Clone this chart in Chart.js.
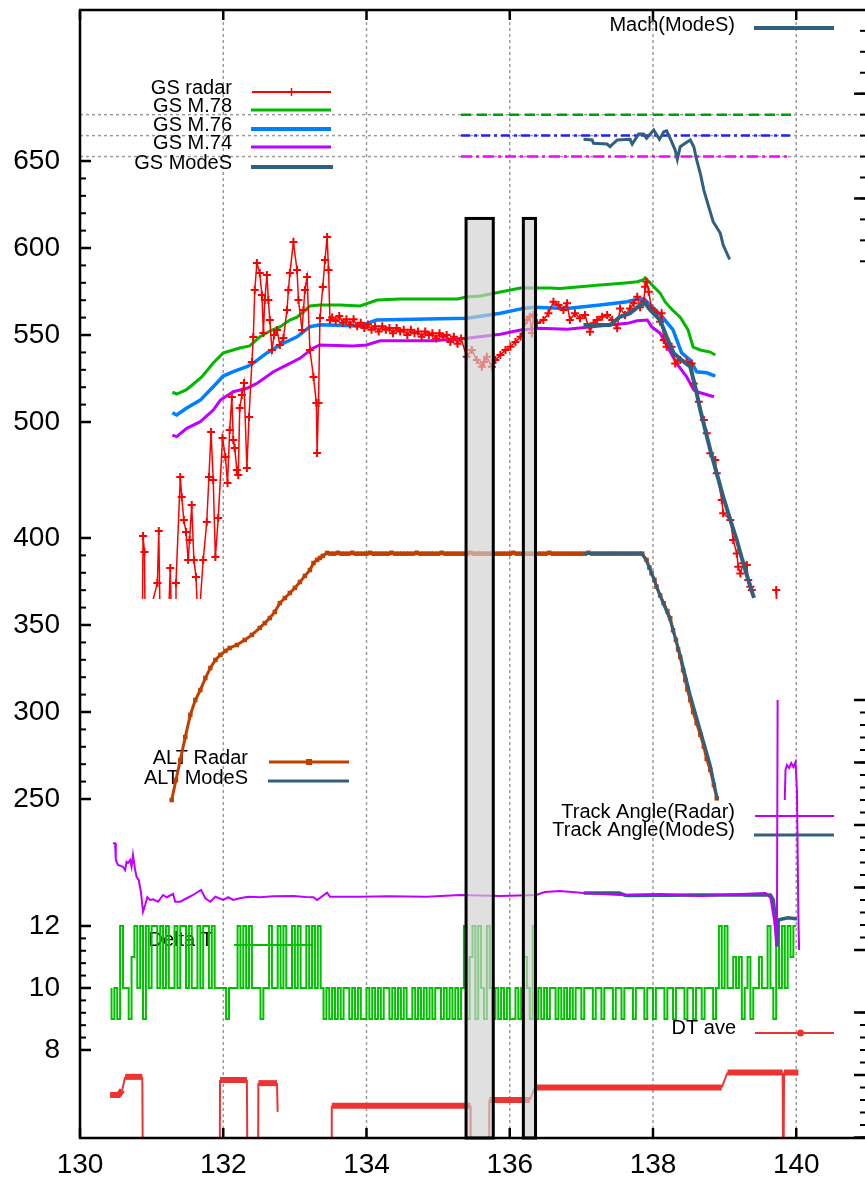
<!DOCTYPE html>
<html>
<head>
<meta charset="utf-8">
<script src="https://cdn.jsdelivr.net/npm/chart.js@4.4.0/dist/chart.umd.min.js"></script>
<style>
  html, body { margin: 0; padding: 0; background: #fff; overflow: hidden; }
  canvas { display: block; }
</style>
</head>
<body>
<canvas id="chart" width="865" height="1182"></canvas>
<script>
// sample clock for regularly sampled series
const clock = (t0, dt, n) => Array.from({ length: n }, (_, i) => +(t0 + i * dt).toFixed(3));
const zip = (ts, vs) => ts.map((t, i) => ({ x: t, y: vs[i] }));

// ---- ground speed (kt) ----
const gsRadarT = [130.87,130.88,130.90,130.91,131.08,131.10,131.12,131.23,131.26,131.28,131.33,131.34,131.40,131.42,131.45,131.48,131.51,131.53,131.56,131.59,131.62,131.65,131.72,131.77,131.80,131.83,131.86,131.89,131.93,131.99,132.03,132.06,132.09,132.12,132.14,132.16,132.19,132.21,132.23,132.26,132.29,132.33,132.36,132.40,132.42,132.44,132.47,132.51,132.54,132.56,132.58,132.61,132.63,132.65,132.68,132.71,132.75,132.79,132.84,132.89,132.91,132.93,132.98,133.03,133.05,133.10,133.12,133.14,133.17,133.21,133.26,133.30,133.31,133.33,133.35,133.39,133.42,133.45,133.47,133.49,
  ...clock(133.52, 0.05, 37),
  135.40,135.47,135.54,135.61,135.64,135.68,135.75,135.80,135.87,135.94,136.01,136.08,136.15,136.24,136.28,136.31,136.33,136.38,136.47,136.54,136.61,136.68,136.75,136.80,136.84,136.91,136.98,137.05,137.12,137.17,137.22,137.29,137.36,137.43,137.50,137.54,137.61,137.68,137.73,137.78,137.82,137.87,137.89,137.91,137.94,137.98,138.05,138.10,138.12,138.15,138.19,138.26,138.31,138.38,138.47,138.54,138.57,138.64,138.71,138.75,138.80,138.87,138.89,138.96,138.98,139.08,139.12,139.17,139.19,139.22,139.26,139.31,139.33,139.36,139.38,139.50,139.72,139.725];
const gsRadarV = [380,434.5,425.3,380,407.5,437.4,380,380,416.1,380,380,407.5,468.4,456.9,443.7,436.8,420.7,432.2,452.3,420.7,410.9,380,420.7,442.5,468.4,494.3,466.7,422.4,444.8,490.8,479.9,464.9,495.4,514.4,489.7,485.1,472.4,469.5,508.0,515.5,522.4,473.6,502.9,534.5,548.9,575.9,591.4,585.6,573.0,551.1,570.1,584.5,570.1,558.6,541.4,550.0,552.9,544.3,548.3,564.4,575.9,585.6,603.4,587.4,570.1,552.9,564.4,575.9,583.3,541.4,525.9,510.9,482.2,510.9,559.8,577.6,593.1,606.3,587.4,558.6,
  560,558,561,557,559,556,559,555,557,554,556,553,555,552,555,553,554,551,554,552,553,550,553,551,552,549,552,550,551,548,551,549,550,546,549,545,548,
  537.5,541.4,535.6,531.8,534.5,537.5,531.8,535.6,538.5,541.4,543.3,546.0,549.0,558.6,560.5,551.1,561.5,556.9,558.6,562.5,569.1,567.2,564.4,568.2,558.6,562.5,559.6,561.5,551.9,556.7,558.6,560.5,561.5,558.6,553.9,565.3,561.5,565.3,568.2,572.0,565.9,569.1,577.8,580.6,574.9,565.3,562.5,557.6,562.5,547.1,543.3,543.3,533.7,535.6,534.7,533.7,522.2,511.7,501.1,493.5,482.0,478.2,470.5,455.2,447.5,443.7,432.2,424.5,416.8,413.0,418.8,417.8,409.2,405.3,403.4,null,403.4,380];

const gsM78T = [131.29,131.35,131.48,131.55,131.70,131.86,132.00,132.09,132.23,132.37,132.51,132.65,132.79,132.93,133.03,133.11,133.21,133.35,133.63,133.91,134.15,134.47,135.03,135.27,135.39,135.59,135.87,136.15,136.56,136.70,136.98,137.26,137.61,137.78,137.86,137.89,137.96,138.10,138.17,138.27,138.38,138.49,138.56,138.66,138.80,138.87];
const gsM78V = [517.1,516.1,518.4,520.7,525.9,533.9,539.7,540.8,542.5,543.7,548.9,552.3,554.6,558.6,560.3,563.2,566.7,567.2,567.2,566.7,570.1,570.7,570.7,570.7,571.8,572.4,574.7,577.0,577.0,576.8,577.8,578.7,579.9,580.6,581.6,582.8,579.9,574.1,569.0,564.4,560.3,552.9,543.1,541.4,540.2,538.5];

const gsM76T = [131.29,131.35,131.49,131.68,131.86,132.00,132.14,132.33,132.42,132.61,132.79,133.03,133.21,133.35,133.91,134.14,134.84,135.40,135.87,136.19,136.33,136.80,137.26,137.64,137.78,137.88,137.96,138.10,138.28,138.40,138.52,138.61,138.75,138.87];
const gsM76V = [505.3,504.0,508.0,512.6,520.3,526.4,528.9,531.8,533.9,539.7,544.3,549.0,554.8,555.9,555.2,558.6,559.2,559.6,562.5,565.3,565.9,565.3,567.2,569.1,570.5,570.7,567.2,561.9,552.9,539.7,535.6,528.9,528.3,526.4];

const gsM74T = [131.29,131.35,131.49,131.68,131.86,131.96,132.14,132.33,132.47,132.70,132.89,133.07,133.25,133.35,133.81,134.00,134.19,134.93,135.40,135.87,136.15,136.42,136.80,137.26,137.64,137.78,137.92,137.98,138.10,138.19,138.33,138.47,138.57,138.66,138.85];
const gsM74V = [492.5,491.6,496.4,500.2,506.9,512.6,517.4,519.4,522.2,528.9,532.8,536.6,542.4,544.3,543.7,544.3,546.7,546.7,548.1,550.4,552.9,553.9,553.3,555.2,556.7,558.2,558.6,554.8,551.0,544.3,533.7,526.0,518.4,516.8,514.5];

const gsModeST = [137.03,137.40,137.54,137.68,137.82,137.89,137.96,138.10,138.19,138.29,138.40,138.52,138.59,138.66,138.73,138.80,138.89,138.98,139.08,139.17,139.26,139.33,139.41];
const gsModeSV = [555.7,555.7,560.5,562.5,567.2,568.2,564.4,558.6,549.0,539.5,535.6,531.8,520.3,506.9,495.4,483.9,470.5,457.1,443.7,432.2,418.8,409.2,398.9];

// ---- Mach ----
const machT = [137.03,137.15,137.17,137.36,137.40,137.50,137.68,137.71,137.80,137.87,137.91,138.01,138.09,138.15,138.19,138.24,138.31,138.34,138.38,138.45,138.52,138.57,138.61,138.66,138.71,138.75,138.84,138.94,138.98,139.07];
const machV = [0.7564,0.7558,0.7526,0.7519,0.7494,0.7558,0.7564,0.7519,0.7615,0.7615,0.7574,0.7653,0.7564,0.7637,0.7646,0.7574,0.7462,0.7373,0.7494,0.7526,0.7558,0.7494,0.7367,0.7240,0.7080,0.6985,0.6778,0.6667,0.6555,0.6419];
const machRefs = [0.78, 0.76, 0.74];
const machRefSpan = [135.32, 139.93];

// ---- altitude (FL) ----
const altClimbT = [131.28,131.34,131.40,131.47,131.54,131.61,131.68,131.75,131.82,131.89,131.96,132.03,132.09,132.19,132.30,132.40,132.51,132.58,132.65,132.72,132.79,132.86,132.93,133.00,133.07,133.14,133.21,133.26,133.31,133.35,133.39,133.45];
const altClimbV = [249.4,260.9,272.4,285.6,298.3,306.9,312.6,319.5,325.3,329.9,332.8,335.1,336.8,338.5,341.4,344.3,348.3,351.1,354.0,357.5,362.6,365.5,368.4,371.3,374.7,378.2,381.6,385.6,387.4,388.5,389.7,391.4];
const altCruiseT = clock(133.50, 0.05, 88);
const altCruiseV = [391,391,391.5,391,391,391,391.5,391,391,391,391,391.5,391,391,391,391,391,391.5,391,391,391,391,391,391,391.5,391,391,391,391,391,391,391.5,391,391,391,391,391,391,391,391.5,391,391,391,391,391,391,391,391,391,391,391,391.5,391,391,391,391,391,391,391,391,391,391.5,391,391,391,391,391,391,391,391,391,391,391.5,391,391,391,391,391,391,391,391,391,391,391,391,391,391,391];
const altDescentT = [137.91,137.95,137.98,138.02,138.05,138.10,138.15,138.20,138.24,138.28,138.32,138.35,138.38,138.42,138.45,138.48,138.52,138.56,138.61,138.66,138.71,138.75,138.80,138.85,138.89];
const altDescentV = [387.4,383.0,379.7,376.0,372.0,367.0,362.5,358.0,353.9,347.0,341.4,336.0,331.6,324.0,318.4,313.0,306.9,300.0,293.5,287.0,280.1,273.0,266.7,258.0,250.4];
const altModeST = [137.03,137.84,137.91,137.99,138.10,138.24,138.38,138.52,138.66,138.80,138.90];
const altModeSV = [391.2,391.2,386.8,378.7,366.7,352.9,332.8,309.8,289.7,269.5,249.4];

// ---- track angle (deg) ----
const trkRadarT = [130.46,130.49,130.50,130.53,130.60,130.63,130.65,130.67,130.70,130.72,130.74,130.77,130.79,130.82,130.85,130.88,130.91,130.94,130.98,131.02,131.09,131.16,131.21,131.30,131.33,131.40,131.49,131.58,131.69,131.75,131.82,131.89,132.00,132.07,132.14,132.23,132.35,132.51,132.70,132.98,133.15,133.26,133.31,133.45,133.49,133.91,134.30,134.84,135.31,135.87,136.37,136.49,136.70,137.03,137.54,138.10,138.66,139.22,139.57,139.64,139.69,139.73,139.74,139.79,139.84,139.85,139.87,139.90,139.93,139.96,139.99,140.01,140.02,140.03,140.04];
const trkRadarV = [235.4,235.4,222,218,216.6,214,220.6,219.4,222,216.6,226,214,208.6,206,196.6,180.6,186,192.2,190,190.6,188.6,194,192.2,194.8,188.6,188.6,191.4,194,198,191.4,188.6,192.6,190,192.2,190,191.4,192.6,192.2,193,193.2,192.4,192.2,190,195.8,192.6,192.6,193,192.6,194,193.2,194,196.4,197.2,195.6,194,194.8,193.2,194.8,195.6,191.6,174,153.2,350,null,270,294,298,295.6,299.6,296.4,300.4,277.2,226,176.4,150];
const trkModeST = [137.03,137.53,137.61,137.65,138.66,139.64,139.68,139.71,139.73,139.75,139.80,139.89,139.99,140.01];
const trkModeSV = [195.6,195.6,193.8,193.6,194,194,190,174,152.6,174,174.8,175.8,175,175];

// ---- Delta T (s), one sample every 0.04 ----
const deltaTT = clock(130.44, 0.04, 240);
const deltaTV = [
  10,9,10,9,12,10,10,9,11,12, 10,12,9,12,10,12,12,10,12,10, 12,10,10,12,10,12,12,10,12,10,
  10,12,10,12,12,10,12,10,10,10, 10,9,10,10,10,12,10,12,10,12, 10,10,10,9,10,10,12,10,10,12,
  10,12,10,10,12,10,12,10,10,12, 10,12,10,12,10,9,
  10,9,10,9,10,9,10,10,9,10, 9,10,9,9,10,9,10,9,10,9, 10,10,9,10,9,10,9,10,9,9,
  10,9,10,9,10,9,10,9,10,10, 9,10,9,10,9,10,9,
  10,12,9,11,12,9,12,10,9,12,10,
  9,10,9,10,9,10,9,9,10,9,
  10,11,10,9,12,
  9,10,9,10,9,10,10,9,10,9,10,9,10,9,10,10,9,10,
  10,10,9,10,10,9,10,10,10,9, 10,10,9,10,10,10,9,10,10,10, 9,10,10,9,10,10,10,9,10,10,
  9,10,10,10,9,10,10,9,10,10, 9,10,10,10,9,10,12,10,12,10, 10,11,10,11,9,10,11,9,10,10,
  11,10,10,12,10,9,12,10,12,10, 12,11,12];

// ---- DT ave (s) ----
const dtAveT = [130.42,130.54,130.59,130.63,130.87,130.88,131.95,131.955,132.33,132.34,132.485,132.49,132.75,132.76,133.0,133.51,133.515,135.45,135.455,135.71,135.715,136.28,136.35,138.96,139.04,139.81,139.82,139.83,140.03];
const dtAveV = [9.68,9.68,9.76,9.97,9.97,8,8,9.92,9.92,8,8,9.87,9.87,9.41,null,8,9.51,9.51,8,8,9.6,9.6,9.8,9.8,10.04,10.04,8,10.04,10.04];

// shaded intervals (x) reaching up to GS 617
const bands = [[135.39, 135.77], [136.19, 136.36]];
const bandTop = 617;

// axis ticks
const xTicks = [130, 132, 134, 136, 138, 140];
const gsMajor = [500, 550, 600, 650];
const altMajor = [250, 300, 350, 400];
const dtMajor = [8, 10, 12];
const machMajor = [0.7, 0.8];
const trkMajor = [150, 200, 250, 300, 350];
const aveMajor = [9, 10, 11];

const RED = '#ff0000', GREEN = '#00b800', BLUE = '#0080ff', PURPLE = '#c000ff',
      SLATE = '#31607f', BROWN = '#c04000', DGREEN = '#00c000', AVE = '#ee3333';
const FONT = '"Liberation Sans", Arial, sans-serif';

function series(label, data, yAxisID, color, width, extra) {
  return Object.assign({
    label, data, yAxisID, xAxisID: 'x',
    borderColor: color, backgroundColor: color, borderWidth: width,
    pointRadius: 0, fill: false, spanGaps: false, tension: 0
  }, extra || {});
}

// first entries are drawn on top
const datasets = [
  series('GS ModeS', zip(gsModeST, gsModeSV), 'yGS', SLATE, 4),
  series('GS radar', zip(gsRadarT, gsRadarV), 'yGS', RED, 1.5, {
    pointStyle: 'cross', pointRadius: 4, pointBorderWidth: 2, pointBorderColor: RED,
    clip: { left: 0, top: 0, right: 0, bottom: -539 }
  }),
  series('GS M.78', zip(gsM78T, gsM78V), 'yGS', GREEN, 3),
  series('GS M.76', zip(gsM76T, gsM76V), 'yGS', BLUE, 3.5),
  series('GS M.74', zip(gsM74T, gsM74V), 'yGS', PURPLE, 3),
  series('Mach(ModeS)', zip(machT, machV), 'yMach', SLATE, 3),
  series('M.78', zip(machRefSpan, [machRefs[0], machRefs[0]]), 'yMach', '#00a000', 2.5, { borderDash: [10, 6] }),
  series('M.76', zip(machRefSpan, [machRefs[1], machRefs[1]]), 'yMach', '#2020ff', 2.5, { borderDash: [9, 4, 3, 4] }),
  series('M.74', zip(machRefSpan, [machRefs[2], machRefs[2]]), 'yMach', '#ff00ff', 2.5, { borderDash: [11, 4, 3, 4] }),
  series('ALT ModeS', zip(altModeST, altModeSV), 'yAlt', SLATE, 3),
  series('ALT Radar', zip([...altClimbT, ...altCruiseT, ...altDescentT], [...altClimbV, ...altCruiseV, ...altDescentV]), 'yAlt', BROWN, 3, {
    pointStyle: 'rect', pointRadius: 3.2, pointBorderWidth: 0, pointBackgroundColor: BROWN
  }),
  series('Track Angle(Radar)', zip(trkRadarT, trkRadarV), 'yTrk', PURPLE, 2),
  series('Track Angle(ModeS)', zip(trkModeST, trkModeSV), 'yTrk', SLATE, 3.5),
  series('Delta T', zip(deltaTT, deltaTV), 'yDt', DGREEN, 2, { stepped: 'after' }),
  series('DT ave', zip(dtAveT, dtAveV), 'yAve', AVE, 2, {
    segment: {
      borderWidth: c => Math.abs(c.p1.y - c.p0.y) > 2 * Math.abs(c.p1.x - c.p0.x) ? 2 : 6
    }
  })
];

const keys = [
  { text: 'GS radar', tx: 232, ty: 88, x1: 252, x2: 331, y: 92, color: RED, w: 2, mark: 'cross' },
  { text: 'GS M.78', tx: 232, ty: 106, x1: 251, x2: 331, y: 110, color: GREEN, w: 3 },
  { text: 'GS M.76', tx: 232, ty: 125, x1: 251, x2: 331, y: 129, color: BLUE, w: 4 },
  { text: 'GS M.74', tx: 232, ty: 143, x1: 251, x2: 331, y: 147, color: PURPLE, w: 3 },
  { text: 'GS ModeS', tx: 232, ty: 163, x1: 251, x2: 333, y: 167, color: SLATE, w: 4 },
  { text: 'Mach(ModeS)', tx: 735, ty: 25, x1: 754, x2: 834, y: 28, color: SLATE, w: 4 },
  { text: 'ALT Radar', tx: 248, ty: 758, x1: 269, x2: 349, y: 762, color: BROWN, w: 3, mark: 'rect' },
  { text: 'ALT ModeS', tx: 248, ty: 778, x1: 268, x2: 349, y: 781, color: SLATE, w: 3 },
  { text: 'Track Angle(Radar)', tx: 735, ty: 812, x1: 755, x2: 834, y: 816, color: PURPLE, w: 2 },
  { text: 'Track Angle(ModeS)', tx: 735, ty: 830, x1: 754, x2: 834, y: 835, color: SLATE, w: 3 },
  { text: 'Delta T', tx: 213, ty: 940, x1: 234, x2: 313, y: 945, color: DGREEN, w: 2 },
  { text: 'DT ave', tx: 736, ty: 1028, x1: 755, x2: 834, y: 1033, color: AVE, w: 2, mark: 'dot' }
];

function seg(ctx, x1, y1, x2, y2) {
  ctx.beginPath(); ctx.moveTo(x1, y1); ctx.lineTo(x2, y2); ctx.stroke();
}

function steps(from, to, step) {
  const out = [];
  for (let v = from; v <= to + step / 2; v += step) out.push(+v.toFixed(4));
  return out;
}

// tick sets drawn on the left and right borders
const leftAxes = [
  { id: 'yGS', major: gsMajor, minor: steps(500, 650, 10) },
  { id: 'yAlt', major: altMajor, minor: steps(250, 400, 10) },
  { id: 'yDt', major: dtMajor, minor: steps(8, 12, 0.4) }
];
const rightAxes = [
  { id: 'yMach', major: machMajor, minor: steps(0.64, 0.86, 0.02) },
  { id: 'yTrk', major: trkMajor, minor: steps(150, 350, 10) },
  { id: 'yAve', major: aveMajor, minor: steps(9, 11, 0.2) }
];

const decor = {
  id: 'decor',
  beforeDatasetsDraw(chart) {
    const { ctx, chartArea: a, scales } = chart;
    ctx.save();
    ctx.strokeStyle = '#9a9a9a';
    ctx.lineWidth = 1.5;
    ctx.setLineDash([3, 3]);
    xTicks.forEach(v => { const x = scales.x.getPixelForValue(v); seg(ctx, x, a.top, x, a.bottom); });
    machRefs.forEach(v => { const y = scales.yMach.getPixelForValue(v); seg(ctx, a.left, y, a.right, y); });
    ctx.setLineDash([]);

    // keys
    ctx.font = '20px ' + FONT;
    ctx.fillStyle = '#000';
    ctx.textAlign = 'right';
    ctx.textBaseline = 'middle';
    keys.forEach(k => {
      ctx.fillText(k.text, k.tx, k.ty);
      ctx.strokeStyle = k.color;
      ctx.lineWidth = k.w;
      seg(ctx, k.x1, k.y, k.x2, k.y);
      const mx = (k.x1 + k.x2) / 2;
      if (k.mark === 'cross') { ctx.lineWidth = 1.5; seg(ctx, mx, k.y - 4, mx, k.y + 4); }
      if (k.mark === 'rect') { ctx.fillStyle = k.color; ctx.fillRect(mx - 3, k.y - 3, 6, 6); ctx.fillStyle = '#000'; }
      if (k.mark === 'dot') { ctx.fillStyle = k.color; ctx.beginPath(); ctx.arc(mx + 6, k.y, 3.5, 0, 7); ctx.fill(); ctx.fillStyle = '#000'; }
    });
    ctx.restore();
  },
  afterDatasetsDraw(chart) {
    const { ctx, chartArea: a, scales } = chart;
    ctx.save();
    // shaded intervals over the data
    const yb = scales.yGS.getPixelForValue(bandTop);
    bands.forEach(([t0, t1]) => {
      const x0 = scales.x.getPixelForValue(t0), x1 = scales.x.getPixelForValue(t1);
      ctx.fillStyle = 'rgba(208,208,208,0.66)';
      ctx.fillRect(x0, yb, x1 - x0, a.bottom - yb);
      ctx.strokeStyle = '#000';
      ctx.lineWidth = 3;
      ctx.strokeRect(x0, yb, x1 - x0, a.bottom - yb);
    });

    // border
    ctx.strokeStyle = '#000';
    ctx.lineWidth = 2.5;
    seg(ctx, a.left, a.top, a.left, a.bottom);
    seg(ctx, a.left - 1, a.top, a.right, a.top);
    seg(ctx, a.left - 1, a.bottom, a.right, a.bottom);

    // x ticks, inward from top and bottom
    xTicks.forEach(v => {
      const x = scales.x.getPixelForValue(v);
      seg(ctx, x, a.bottom, x, a.bottom - 10);
      seg(ctx, x, a.top, x, a.top + 10);
    });

    // left ticks and labels
    ctx.font = '28px ' + FONT;
    ctx.fillStyle = '#000';
    ctx.textAlign = 'right';
    ctx.textBaseline = 'middle';
    leftAxes.forEach(ax => {
      const s = scales[ax.id];
      ctx.lineWidth = 2;
      ax.minor.forEach(v => { const y = s.getPixelForValue(v); seg(ctx, a.left, y, a.left + 6, y); });
      ctx.lineWidth = 2.5;
      ax.major.forEach(v => {
        const y = s.getPixelForValue(v);
        seg(ctx, a.left, y, a.left + 11, y);
        ctx.fillText(String(v), 60, y);
      });
    });

    // right ticks
    rightAxes.forEach(ax => {
      const s = scales[ax.id];
      ctx.lineWidth = 2;
      ax.minor.forEach(v => { const y = s.getPixelForValue(v); seg(ctx, a.right - 5, y, a.right, y); });
      ctx.lineWidth = 2.5;
      ax.major.forEach(v => { const y = s.getPixelForValue(v); seg(ctx, a.right - 11, y, a.right, y); });
    });
    ctx.restore();
  }
};

const hidden = (min, max) => ({ type: 'linear', display: false, min, max });

new Chart(document.getElementById('chart'), {
  type: 'line',
  data: { datasets },
  plugins: [decor],
  options: {
    responsive: false,
    animation: false,
    events: [],
    layout: { autoPadding: false, padding: { left: 80, top: 10, right: 0, bottom: 0 } },
    plugins: { legend: { display: false }, tooltip: { enabled: false } },
    scales: {
      x: {
        type: 'linear', min: 130, max: 140.96,
        grid: { display: false, drawTicks: false },
        border: { display: false },
        ticks: {
          stepSize: 2, includeBounds: false, padding: 10, maxRotation: 0,
          color: '#000', font: { family: FONT, size: 28 }
        },
        afterFit: scale => {
          scale.height = 44;
          scale.paddingLeft = 0;
          scale.paddingRight = 0;
        }
      },
      yGS: hidden(88.5, 736.8),
      yAlt: hidden(55.2, 703.4),
      yDt: hidden(5.16, 41.55),
      yMach: hidden(-0.197, 0.8799),
      yTrk: hidden(-0.4, 902),
      yAve: hidden(8.992, 27.04)
    }
  }
});
</script>
</body>
</html>
